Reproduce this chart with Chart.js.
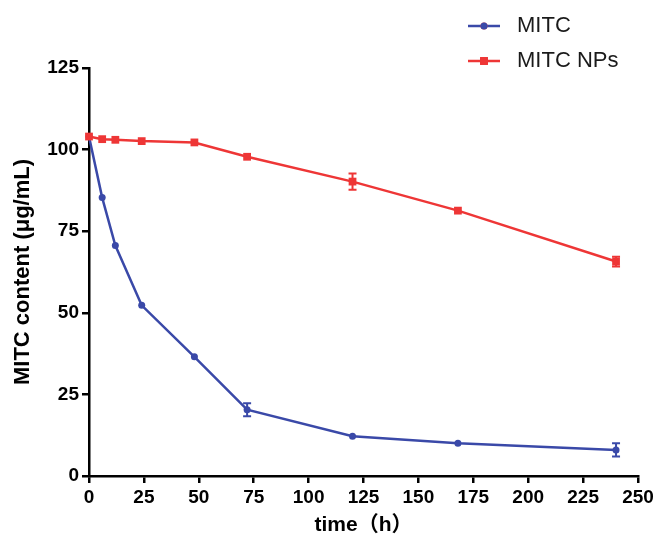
<!DOCTYPE html>
<html>
<head>
<meta charset="utf-8">
<script src="https://cdn.jsdelivr.net/npm/chart.js@4/dist/chart.umd.min.js"></script>
<style>
  html, body { margin: 0; padding: 0; background: #fff; }
  #wrap { position: relative; width: 662px; height: 538px; }
</style>
</head>
<body>
<div id="wrap"><canvas id="chartMitc" width="662" height="538"></canvas></div>
<script>
document.addEventListener("DOMContentLoaded", function () {

    // ================= DATA =================
    const horas = [0, 6, 12, 24, 48, 72, 120, 168, 240];
    const mitc = [104, 85.3, 70.6, 52.3, 36.5, 20.3, 12.2, 10, 8];
    const mitcErr = [0, 0, 0, 0, 0, 2, 0, 0, 2];
    const mitcNps = [104, 103.2, 103, 102.6, 102.2, 97.8, 90.2, 81.3, 65.7];
    const mitcNpsErr = [0, 0, 0, 0, 0, 0, 2.5, 0, 1.5];
    const seriesLabels = ['MITC', 'MITC NPs'];

    const AZUL = '#3a49a8';
    const ROJO = '#ee3636';
    const FONT = "'Liberation Sans', Arial, 'Noto Sans CJK SC', sans-serif";

    const toXY = (xs, ys) => xs.map((x, i) => ({ x: x, y: ys[i] }));

    // ================= ERROR BARS =================
    const errorBars = {
        id: 'errorBars',
        afterDatasetsDraw(chart) {
            const ctx = chart.ctx;
            const ys = chart.scales.y;
            chart.data.datasets.forEach((ds, di) => {
                const meta = chart.getDatasetMeta(di);
                ctx.save();
                ctx.strokeStyle = ds.borderColor;
                ctx.lineWidth = 2;
                meta.data.forEach((pt, i) => {
                    const e = ds.errors[i];
                    if (!e) return;
                    const v = ds.data[i].y;
                    const top = ys.getPixelForValue(v + e);
                    const bot = ys.getPixelForValue(v - e);
                    ctx.beginPath();
                    ctx.moveTo(pt.x, top); ctx.lineTo(pt.x, bot);
                    ctx.moveTo(pt.x - 4, top); ctx.lineTo(pt.x + 4, top);
                    ctx.moveTo(pt.x - 4, bot); ctx.lineTo(pt.x + 4, bot);
                    ctx.stroke();
                });
                ctx.restore();
            });
        }
    };

    // ================= LEGEND =================
    const legendLines = {
        id: 'legendLines',
        afterDraw(chart) {
            const ctx = chart.ctx;
            const rows = [26, 61];
            chart.data.datasets.forEach((ds, di) => {
                const y = rows[di];
                ctx.save();
                ctx.strokeStyle = ds.borderColor;
                ctx.lineWidth = 2.5;
                ctx.beginPath();
                ctx.moveTo(468, y); ctx.lineTo(500, y);
                ctx.stroke();
                Chart.helpers.drawPoint(ctx, {
                    pointStyle: ds.pointStyle,
                    radius: ds.pointRadius,
                    borderWidth: 0
                }, 484, y);
                ctx.fillStyle = ds.borderColor;
                ctx.fill();
                ctx.fillStyle = '#1a1a1a';
                ctx.font = '22px ' + FONT;
                ctx.textBaseline = 'middle';
                ctx.fillText(ds.label, 517, y);
                ctx.restore();
            });
        }
    };

    new Chart(document.getElementById('chartMitc'), {
        type: 'line',
        data: {
            datasets: [{
                label: seriesLabels[0],
                data: toXY(horas, mitc),
                errors: mitcErr,
                borderColor: AZUL,
                backgroundColor: AZUL,
                borderWidth: 2.5,
                pointStyle: 'circle',
                pointRadius: 3.5,
                pointBorderWidth: 0,
                order: 2,
                clip: false
            }, {
                label: seriesLabels[1],
                data: toXY(horas, mitcNps),
                errors: mitcNpsErr,
                borderColor: ROJO,
                backgroundColor: ROJO,
                borderWidth: 2.5,
                pointStyle: 'rect',
                pointRadius: 5.5,
                pointBorderWidth: 0,
                order: 1,
                clip: false
            }]
        },
        options: {
            responsive: false,
            animation: false,
            layout: { padding: { top: 68, right: 24, left: 0, bottom: 0 } },
            plugins: {
                legend: { display: false },
                tooltip: { enabled: false }
            },
            scales: {
                x: {
                    type: 'linear',
                    min: 0, max: 250,
                    afterFit(s) { s.height = 62; },
                    ticks: {
                        stepSize: 25,
                        color: '#000',
                        padding: 3,
                        maxRotation: 0,
                        font: { family: FONT, size: 19, weight: 'bold' }
                    },
                    grid: { drawOnChartArea: false, drawTicks: true, tickLength: 7, color: '#000', lineWidth: 2.5 },
                    border: { display: true, color: '#000', width: 2.5 },
                    title: {
                        display: true,
                        text: 'time（h）',
                        color: '#000',
                        padding: { top: 0, bottom: 0 },
                        font: { family: FONT, size: 21, weight: 'bold' }
                    }
                },
                y: {
                    min: 0, max: 125,
                    afterFit(s) { s.width = 89; },
                    ticks: {
                        stepSize: 25,
                        color: '#000',
                        padding: 3,
                        font: { family: FONT, size: 19, weight: 'bold' }
                    },
                    grid: { drawOnChartArea: false, drawTicks: true, tickLength: 7, color: '#000', lineWidth: 2.5 },
                    border: { display: true, color: '#000', width: 2.5 },
                    title: {
                        display: true,
                        text: 'MITC content (μg/mL)',
                        color: '#000',
                        padding: { top: 10, bottom: 0 },
                        font: { family: FONT, size: 22, weight: 'bold' }
                    }
                }
            }
        },
        plugins: [errorBars, legendLines]
    });

});
</script>
</body>
</html>
